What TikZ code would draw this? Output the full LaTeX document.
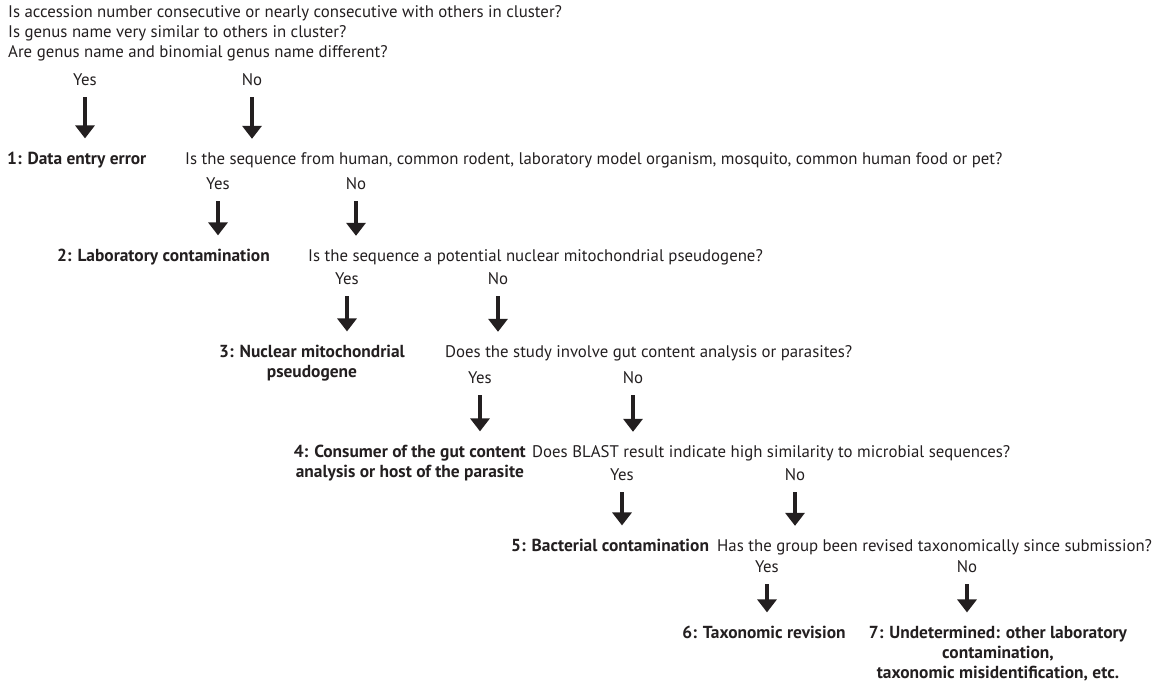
\documentclass[tikz,border=0pt]{standalone}
\usepackage{fontspec}
\setmainfont{PT Sans}
\usetikzlibrary{arrows.meta}
\definecolor{encre}{HTML}{231F20}
\begin{document}
\begin{tikzpicture}[x=1pt,y=-1pt]
\tikzset{qnoeud/.style={inner sep=0pt, anchor=base west, text=encre, font=\fontsize{16.8}{20}\selectfont},
rnoeud/.style={inner sep=0pt, align=center, text=encre, font=\fontsize{17.4}{20}\selectfont\bfseries},
ynnoeud/.style={inner sep=0pt, anchor=base, text=encre, font=\fontsize{16.8}{20}\selectfont},
fleche/.style={draw=encre, line width=3.4pt, -{Triangle[width=19pt,length=13pt]}, shorten <=12pt, shorten >=13pt}}
\useasboundingbox (0,0) rectangle (1162,685);
\node[qnoeud, align=left] (Q0) at (8,58) {Is accession number consecutive or nearly consecutive with others in cluster?\\Is genus name very similar to others in cluster?\\Are genus name and binomial genus name different?};
\node[ynnoeud] (Y0) at (85,85) {Yes};
\node[ynnoeud] (N0) at (252,85) {No};
\node[rnoeud, anchor=base west] (R1) at (7,164) {1: Data entry error};
\node[qnoeud] (Q1) at (185,164) {Is the sequence from human, common rodent, laboratory model organism, mosquito, common human food or pet?};
\node[ynnoeud] (Y1) at (218,189) {Yes};
\node[ynnoeud] (N1) at (356,189) {No};
\node[rnoeud, anchor=base east] (R2) at (270,261) {2: Laboratory contamination};
\node[qnoeud] (Q2) at (308,261) {Is the sequence a potential nuclear mitochondrial pseudogene?};
\node[ynnoeud] (Y2) at (347,284) {Yes};
\node[ynnoeud] (N2) at (498,284) {No};
\node[rnoeud, anchor=base east] (R3) at (405,377) {3: Nuclear mitochondrial\\pseudogene};
\node[qnoeud] (Q3) at (445,357) {Does the study involve gut content analysis or parasites?};
\node[ynnoeud] (Y3) at (480,383) {Yes};
\node[ynnoeud] (N3) at (633,383) {No};
\node[rnoeud, anchor=base east] (R4) at (526,477) {4: Consumer of the gut content\\analysis or host of the parasite};
\node[qnoeud] (Q4) at (532,457) {Does BLAST result indicate high similarity to microbial sequences?};
\node[ynnoeud] (Y4) at (622,480) {Yes};
\node[ynnoeud] (N4) at (795,480) {No};
\node[rnoeud, anchor=base west] (R5) at (511,551) {5: Bacterial contamination};
\node[qnoeud] (Q5) at (717,551) {Has the group been revised taxonomically since submission?};
\node[ynnoeud] (Y5) at (767,572) {Yes};
\node[ynnoeud] (N5) at (967,572) {No};
\node[rnoeud, anchor=base] (R6) at (764,638) {6: Taxonomic revision};
\node[rnoeud, anchor=base] (R7) at (998,678) {7: Undetermined: other laboratory\\contamination,\\taxonomic misidentification, etc.};
\draw[fleche] (Y0.base) -- (Y0.base |- R1.north);
\draw[fleche] (N0.base) -- (N0.base |- Q1.north);
\draw[fleche] (Y1.base) -- (Y1.base |- R2.north);
\draw[fleche] (N1.base) -- (N1.base |- Q2.north);
\draw[fleche] (Y2.base) -- (Y2.base |- R3.north);
\draw[fleche] (N2.base) -- (N2.base |- Q3.north);
\draw[fleche] (Y3.base) -- (Y3.base |- R4.north);
\draw[fleche] (N3.base) -- (N3.base |- Q4.north);
\draw[fleche] (Y4.base) -- (Y4.base |- R5.north);
\draw[fleche] (N4.base) -- (N4.base |- Q5.north);
\draw[fleche] (Y5.base) -- (Y5.base |- R6.north);
\draw[fleche] (N5.base) -- (N5.base |- R7.north);
\end{tikzpicture}
\end{document}
